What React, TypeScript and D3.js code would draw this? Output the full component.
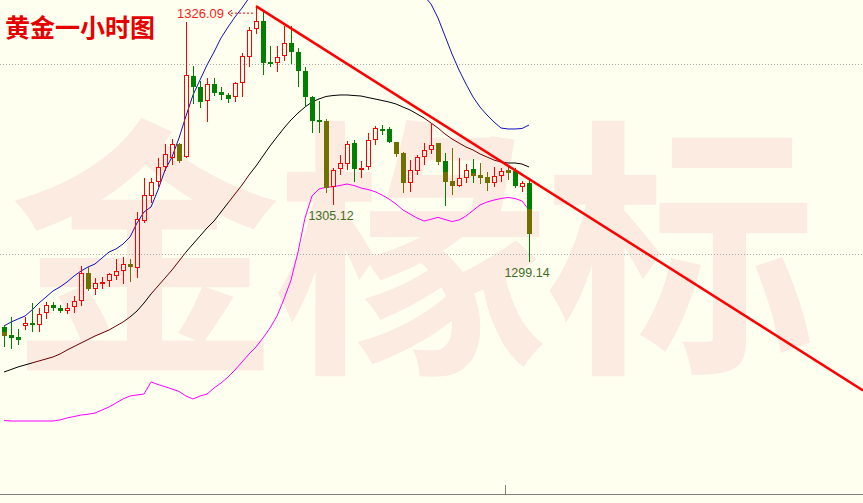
import * as d3 from 'd3';
import React from 'react';

const W = 863;
const H = 503;
const BG = '#fffff0';

// hourly gold candles
const opens = [
  1292.28, 1291.47, 1291.26, 1292.42, 1292.77, 1292.56, 1293.76, 1294.63, 1294.32, 1294.03,
  1294.39, 1295.08, 1298.03, 1296.28, 1296.81, 1297.11, 1297.72, 1298.18, 1298.92, 1298.56,
  1303.51, 1306.14, 1307.55, 1309.13, 1310.07, 1311.55, 1310.18, 1318.74, 1317.58, 1316.07,
  1317.86, 1317.05, 1316.71, 1316.49, 1317.97, 1320.77, 1323.65, 1324.53, 1320.24, 1320.07,
  1320.84, 1322.18, 1321.29, 1319.29, 1316.56, 1314.11, 1314.0, 1307.02, 1308.92, 1309.47,
  1311.68, 1308.81, 1309.13, 1312.0, 1313.16, 1313.16, 1311.79, 1310.66, 1307.44, 1308.74,
  1310.18, 1310.95, 1311.65, 1309.79, 1307.72, 1307.16, 1308.03, 1308.95, 1308.32, 1308.11,
  1307.51, 1308.18, 1308.81, 1308.74, 1307.08, 1307.51,
];
const highs = [
  1292.53, 1293.34, 1292.07, 1293.34, 1294.87, 1294.28, 1294.95, 1294.95, 1294.6, 1294.81,
  1295.58, 1298.74, 1298.6, 1297.44, 1297.55, 1298.05, 1299.47, 1299.65, 1299.44, 1304.39,
  1307.97, 1308.03, 1310.07, 1311.55, 1312.11, 1311.65, 1324.45, 1319.74, 1318.19, 1318.49,
  1318.49, 1317.55, 1316.92, 1318.14, 1321.13, 1323.93, 1326.09, 1325.51, 1321.89, 1321.89,
  1324.0, 1324.0, 1321.65, 1319.72, 1316.63, 1316.14, 1314.18, 1309.02, 1310.42, 1311.89,
  1312.05, 1309.82, 1312.77, 1313.51, 1313.58, 1313.4, 1311.84, 1310.74, 1309.89, 1310.42,
  1311.65, 1313.76, 1311.68, 1310.66, 1311.13, 1310.07, 1309.47, 1309.97, 1309.55, 1308.66,
  1309.13, 1309.02, 1309.37, 1309.02, 1307.72, 1307.97,
];
const lows = [
  1290.24, 1289.97, 1290.42, 1292.0, 1291.79, 1291.82, 1293.13, 1294.0, 1293.82, 1293.68,
  1293.82, 1294.53, 1296.14, 1295.68, 1296.28, 1296.53, 1297.26, 1296.81, 1297.08, 1297.51,
  1303.23, 1305.34, 1307.08, 1308.77, 1309.37, 1309.61, 1310.1, 1315.74, 1315.42, 1313.93,
  1316.66, 1316.21, 1315.93, 1316.03, 1316.56, 1319.65, 1323.13, 1318.84, 1319.72, 1319.19,
  1320.32, 1320.0, 1317.55, 1315.51, 1312.71, 1312.77, 1306.45, 1305.12, 1308.32, 1308.84,
  1307.63, 1307.97, 1308.84, 1311.47, 1312.53, 1311.65, 1310.24, 1306.39, 1306.56, 1308.32,
  1309.37, 1310.49, 1309.37, 1305.08, 1306.21, 1307.08, 1307.51, 1307.51, 1307.37, 1306.66,
  1307.02, 1307.58, 1307.79, 1306.92, 1306.56, 1299.14,
];
const closes = [
  1291.37, 1291.19, 1290.98, 1292.77, 1292.56, 1293.68, 1294.66, 1294.28, 1294.03, 1294.32,
  1295.05, 1298.03, 1296.28, 1296.98, 1297.08, 1297.89, 1298.21, 1298.95, 1298.66, 1303.65,
  1306.21, 1307.55, 1309.13, 1310.49, 1311.55, 1309.82, 1318.84, 1317.53, 1315.97, 1317.86,
  1316.98, 1316.77, 1316.35, 1317.97, 1320.84, 1323.58, 1324.53, 1320.14, 1320.07, 1320.71,
  1322.18, 1321.23, 1319.29, 1316.56, 1314.03, 1313.95, 1306.92, 1308.81, 1309.55, 1311.61,
  1308.95, 1309.02, 1311.97, 1313.23, 1313.02, 1311.76, 1310.49, 1307.44, 1308.81, 1310.18,
  1310.95, 1311.51, 1309.72, 1307.61, 1307.19, 1307.97, 1308.84, 1308.24, 1308.03, 1307.44,
  1308.18, 1308.71, 1308.56, 1307.16, 1307.44, 1302.11,
];
// body tone of falling candles: g green, o olive, m green over olive, - rising
const tones = [
  'm', 'g', 'g', '-', 'g', '-', '-', 'g', 'g', '-',
  '-', '-', 'o', '-', '-', '-', '-', '-', 'o', '-',
  '-', '-', '-', '-', '-', 'o', '-', 'g', 'g', '-',
  'g', 'g', 'g', '-', '-', '-', '-', 'g', 'g', '-',
  '-', 'g', 'g', 'g', 'g', 'g', 'o', '-', '-', '-',
  'g', '-', '-', '-', 'g', 'g', 'o', 'o', '-', '-',
  '-', '-', 'o', 'm', 'o', '-', '-', 'm', 'o', 'o',
  '-', '-', 'o', 'g', '-', 'm',
];

// Bollinger bands
const upperBand: (number | null)[] = [
  1292.42, 1292.84, 1293.16, 1293.47, 1294.11, 1294.84, 1295.47, 1296.11, 1296.53, 1297.05,
  1297.68, 1298.21, 1298.63, 1298.95, 1299.58, 1300.21, 1300.53, 1301.05, 1301.79, 1303.26,
  1304.42, 1304.95, 1306.74, 1308.84, 1310.21, 1312.21, 1314.53, 1316.74, 1318.32, 1319.89,
  1321.26, 1322.74, 1323.89, 1324.95, 1325.89, 1326.95, null, null, null, null,
  null, null, null, null, null, null, null, null, null, null,
  null, null, null, null, null, null, null, null, null, null,
  1327.16, 1326.32, 1324.84, 1322.95, 1321.05, 1319.37, 1317.89, 1316.53, 1315.47, 1314.63,
  1313.89, 1313.26, 1313.16, 1313.16, 1313.21, 1313.58,
];
const middleBand = [
  1287.58, 1287.84, 1288.11, 1288.32, 1288.53, 1288.74, 1288.95, 1289.16, 1289.47, 1289.89,
  1290.26, 1290.63, 1291.0, 1291.37, 1291.68, 1292.0, 1292.42, 1292.84, 1293.37, 1294.0,
  1294.84, 1295.79, 1296.63, 1297.47, 1298.32, 1299.26, 1300.21, 1301.05, 1301.89, 1302.74,
  1303.47, 1304.42, 1305.37, 1306.32, 1307.26, 1308.32, 1309.26, 1310.32, 1311.37, 1312.32,
  1313.26, 1314.11, 1314.84, 1315.47, 1316.0, 1316.32, 1316.58, 1316.68, 1316.74, 1316.74,
  1316.68, 1316.63, 1316.47, 1316.32, 1316.16, 1316.0, 1315.79, 1315.47, 1315.16, 1314.74,
  1314.32, 1313.79, 1313.26, 1312.63, 1312.11, 1311.68, 1311.26, 1310.95, 1310.53, 1310.21,
  1309.89, 1309.68, 1309.58, 1309.58, 1309.47, 1309.16,
];
const lowerBand = [
  1282.47, 1282.42, 1282.42, 1282.42, 1282.42, 1282.42, 1282.42, 1282.42, 1282.53, 1282.74,
  1282.89, 1283.05, 1283.13, 1283.26, 1283.58, 1283.89, 1284.32, 1284.74, 1285.05, 1285.16,
  1285.26, 1286.53, 1286.26, 1286.03, 1285.79, 1285.53, 1285.05, 1284.74, 1285.05, 1285.26,
  1285.89, 1286.42, 1287.05, 1287.79, 1288.63, 1289.47, 1290.21, 1291.16, 1292.21, 1293.47,
  1295.26, 1297.26, 1300.21, 1303.79, 1306.11, 1306.84, 1307.02, 1307.08, 1307.21, 1307.37,
  1307.21, 1306.95, 1306.79, 1306.56, 1306.21, 1305.79, 1305.26, 1304.63, 1304.21, 1303.79,
  1303.47, 1303.65, 1303.86, 1303.63, 1303.42, 1303.58, 1304.0, 1304.58, 1305.16, 1305.47,
  1305.68, 1305.84, 1305.95, 1305.84, 1305.58, 1304.63,
];

// falling trend line from the top through the last candle
const trendFrom = { index: 36, price: 1326.09 };
const trendTo = { index: 75, price: 1307.9 };

const highLabel = { index: 36, price: 1326.09, text: '1326.09' };
const lowLabels = [
  { index: 47, price: 1305.12, text: '1305.12' },
  { index: 75, price: 1299.14, text: '1299.14' },
];
const gridPrices = [1320, 1300];
const title = '黄金一小时图';
const watermark = ['金', '椽', '标'];

const RED = '#ff0000';
const GREEN = '#008000';
const OLIVE = '#707000';
const MAROON_SEGMENTS = [[4, 18], [21, 26], [32, 35], [60, 71]];

export default function App() {
  const x = d3.scaleLinear().domain([0, 75]).range([4, 529]);
  const y = d3.scaleLinear().domain([1300, 1320]).range([254, 64]);

  const bandLine = d3
    .line<number | null>()
    .defined((d) => d != null)
    .x((_, i) => x(i))
    .y((d) => y(d as number));

  const isMaroon = (i: number) => MAROON_SEGMENTS.some(([a, b]) => i >= a && i < b);

  // extend trend line to the right edge
  const tx1 = x(trendFrom.index);
  const ty1 = y(trendFrom.price);
  const slope = (y(trendTo.price) - ty1) / (x(trendTo.index) - tx1);
  const ty2 = ty1 + slope * (W - tx1);

  const hx = x(highLabel.index);
  const hy = y(highLabel.price);

  return (
    <svg
      width={W}
      height={H}
      style={{ position: 'fixed', left: 0, top: 0, display: 'block' }}
    >
      <rect width={W} height={H} fill={BG} />

      {watermark.map((c, i) => (
        <text
          key={c}
          x={145 + i * 268}
          y={352}
          fontSize={272}
          fontWeight="bold"
          fontFamily="'Noto Sans CJK SC', sans-serif"
          textAnchor="middle"
          fill="#fbebe0"
        >
          {c}
        </text>
      ))}

      {gridPrices.map((p) => (
        <line
          key={p}
          x1={0}
          x2={W}
          y1={Math.round(y(p)) + 0.5}
          y2={Math.round(y(p)) + 0.5}
          stroke="#a8a8a8"
          strokeDasharray="1 2"
        />
      ))}

      <path d={bandLine(upperBand) ?? ''} fill="none" stroke="#1010c0" strokeWidth={1} />
      <path d={bandLine(lowerBand) ?? ''} fill="none" stroke="#ff00ff" strokeWidth={1} />
      {middleBand.slice(0, -1).map((v, i) => (
        <line
          key={i}
          x1={x(i)}
          y1={y(v)}
          x2={x(i + 1)}
          y2={y(middleBand[i + 1])}
          stroke={isMaroon(i) ? '#6a0000' : '#000000'}
          strokeWidth={1}
        />
      ))}

      {opens.map((o, i) => {
        const c = closes[i];
        const cx = Math.round(x(i));
        const yH = Math.round(y(highs[i]));
        const yL = Math.round(y(lows[i]));
        const yO = Math.round(y(o));
        const yC = Math.round(y(c));
        const top = Math.min(yO, yC);
        const bot = Math.max(yO, yC);
        if (c >= o) {
          return (
            <g key={i}>
              <line x1={cx + 0.5} x2={cx + 0.5} y1={yH} y2={top} stroke={RED} />
              <line x1={cx + 0.5} x2={cx + 0.5} y1={bot} y2={yL} stroke={RED} />
              <rect
                x={cx - 1.5}
                y={top + 0.5}
                width={4}
                height={Math.max(bot - top - 1, 1)}
                fill="none"
                stroke={RED}
              />
            </g>
          );
        }
        const tone = tones[i];
        const main = tone === 'o' ? OLIVE : GREEN;
        const h = Math.max(bot - top, 2);
        const mid = top + Math.round(h / 2);
        return (
          <g key={i}>
            <line x1={cx + 0.5} x2={cx + 0.5} y1={yH} y2={yL} stroke={main} />
            {tone === 'm' ? (
              <>
                <rect x={cx - 2} y={top} width={5} height={mid - top} fill={GREEN} />
                <rect x={cx - 2} y={mid} width={5} height={top + h - mid} fill={OLIVE} />
              </>
            ) : (
              <rect x={cx - 2} y={top} width={5} height={h} fill={main} />
            )}
          </g>
        );
      })}

      <line x1={tx1} y1={ty1} x2={W} y2={ty2} stroke={RED} strokeWidth={2.5} />

      <text
        x={hx - 32}
        y={hy + 12}
        fontSize={13}
        fontFamily="'Liberation Sans', Arial, sans-serif"
        textAnchor="end"
        fill="#ff1a1a"
      >
        {highLabel.text}
      </text>
      <line
        x1={hx - 25}
        x2={hx - 2}
        y1={hy + 7}
        y2={hy + 7}
        stroke={RED}
        strokeDasharray="2 2"
      />
      <path
        d={`M${hx - 24},${hy + 4} L${hx - 28},${hy + 7} L${hx - 24},${hy + 10}`}
        fill="none"
        stroke={RED}
      />

      {lowLabels.map((l) => (
        <text
          key={l.text}
          x={x(l.index) - 2}
          y={y(l.price) + 15}
          fontSize={12.5}
          fontFamily="'Liberation Sans', Arial, sans-serif"
          textAnchor="middle"
          fill="#3f6f1f"
        >
          {l.text}
        </text>
      ))}

      <text
        x={5}
        y={37}
        fontSize={25}
        fontWeight="bold"
        fontFamily="'Noto Sans CJK SC', sans-serif"
        fill="#e60000"
      >
        {title}
      </text>

      <line x1={0} x2={W} y1={494.5} y2={494.5} stroke="#808080" />
      <line x1={505.5} x2={505.5} y1={485} y2={494} stroke="#808080" />
    </svg>
  );
}
